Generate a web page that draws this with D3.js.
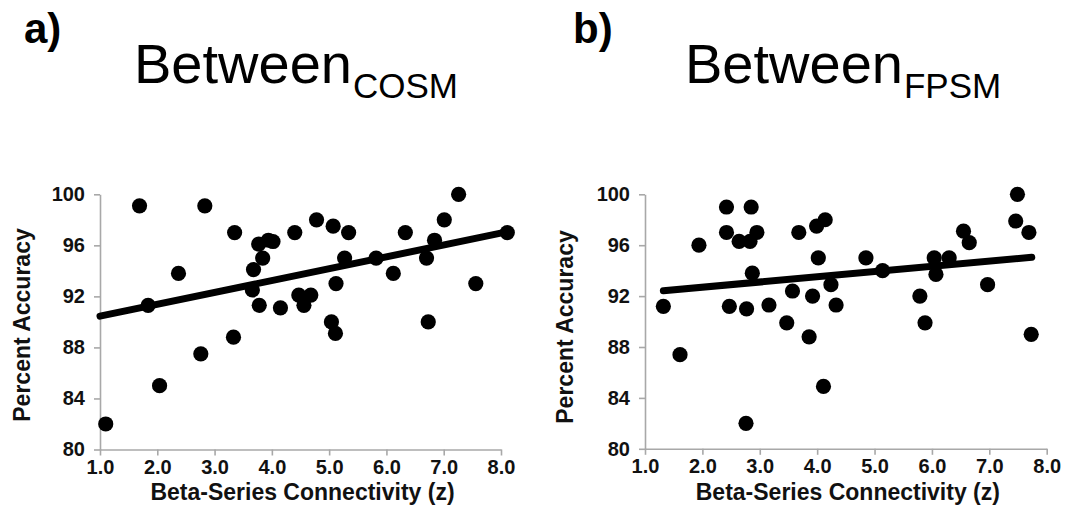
<!DOCTYPE html>
<html>
<head>
<meta charset="utf-8">
<script src="https://cdn.jsdelivr.net/npm/d3@7"></script>
<style>
  body { margin: 0; background: #fff; }
  text { font-family: "Liberation Sans", Arial, sans-serif; }
</style>
</head>
<body>
<div id="chart"></div>
<script>
// Panel a: Between COSM
const cosmX = [1.10, 1.69, 1.84, 2.04, 2.37, 2.76, 2.83, 3.33, 3.35, 3.68, 3.66, 3.77, 3.84, 3.78,
    3.94, 4.02, 4.15, 4.40, 4.47, 4.56, 4.68, 4.78, 5.07, 5.34, 5.12, 5.04, 5.11, 5.27,
    5.82, 6.12, 6.33, 6.70, 6.84, 6.73, 7.01, 7.26, 7.56, 8.11];
const cosmY = [82.0, 99.1, 91.3, 85.0, 93.8, 87.5, 99.1, 88.8, 97.0, 94.1, 92.5, 96.1, 95.0, 91.3,
    96.4, 96.3, 91.1, 97.0, 92.1, 91.3, 92.1, 98.0, 97.5, 97.0, 93.0, 90.0, 89.1, 95.0,
    95.0, 93.8, 97.0, 95.0, 96.4, 90.0, 98.0, 100.0, 93.0, 97.0];
const cosmTrendX = [1.0, 8.1];
const cosmTrendY = [90.45, 97.05];

// Panel b: Between FPSM
const fpsmX = [1.32, 1.61, 1.94, 2.42, 2.42, 2.47, 2.64, 2.85, 2.83, 2.95, 2.87, 2.77, 2.76, 3.16,
    3.47, 3.57, 3.68, 3.86, 3.92, 4.02, 3.99, 4.14, 4.24, 4.33, 4.11, 4.85, 5.14, 5.79,
    5.88, 6.04, 6.07, 6.30, 6.55, 6.65, 6.97, 7.49, 7.46, 7.69, 7.73];
const fpsmY = [91.2, 87.4, 96.0, 99.0, 97.0, 91.2, 96.3, 99.0, 96.3, 97.0, 93.8, 91.0, 82.0, 91.3,
    89.9, 92.4, 97.0, 88.8, 92.0, 95.0, 97.5, 98.0, 92.9, 91.3, 84.9, 95.0, 94.0, 92.0,
    89.9, 95.0, 93.7, 95.0, 97.1, 96.2, 92.9, 100.0, 97.9, 97.0, 89.0];
const fpsmTrendX = [1.32, 7.74];
const fpsmTrendY = [92.42, 95.05];

const xTicks = [1, 2, 3, 4, 5, 6, 7, 8];
const yTicks = [80, 84, 88, 92, 96, 100];
const panelLetters = ["a)", "b)"];
const titleMain = "Between";
const titleSubs = ["COSM", "FPSM"];
const xLabel = "Beta-Series Connectivity (z)";
const yLabel = "Percent Accuracy";

const width = 1080;
const height = 520;

const svg = d3.select("#chart")
    .append("svg")
    .attr("width", width)
    .attr("height", height);

function drawPanel(opts) {
    const x = d3.scaleLinear().domain([1, 8]).range([opts.left, opts.right]);
    const y = d3.scaleLinear().domain([80, 100]).range([opts.bottom, opts.top]);

    const g = svg.append("g");

    // x axis
    const xAxis = g.append("g")
        .attr("transform", `translate(0,${opts.bottom})`)
        .call(d3.axisBottom(x).tickValues(xTicks).tickFormat(d3.format(".1f"))
            .tickSize(6).tickSizeOuter(0).tickPadding(4));
    // y axis
    const yAxis = g.append("g")
        .attr("transform", `translate(${opts.left},0)`)
        .call(d3.axisLeft(y).tickValues(yTicks).tickSize(6).tickSizeOuter(0).tickPadding(9));

    [xAxis, yAxis].forEach(a => {
        a.select(".domain").attr("stroke", "#a8a8a8").attr("stroke-width", 1.6);
        a.selectAll(".tick line").attr("stroke", "#a8a8a8").attr("stroke-width", 1.6);
        a.selectAll(".tick text")
            .attr("fill", "#111")
            .style("font-size", "20px")
            .style("font-weight", "bold");
    });

    // points
    g.append("g")
        .selectAll("circle")
        .data(d3.zip(opts.xs, opts.ys))
        .join("circle")
        .attr("cx", d => x(d[0]))
        .attr("cy", d => y(d[1]))
        .attr("r", 7.6)
        .attr("fill", "#000");

    // trend line
    const line = d3.line().x(d => x(d[0])).y(d => y(d[1]));
    g.append("path")
        .attr("fill", "none")
        .attr("stroke", "#000")
        .attr("stroke-width", 7)
        .attr("stroke-linecap", "round")
        .attr("d", line(d3.zip(opts.trendX, opts.trendY)));

    // axis titles
    g.append("text")
        .attr("x", (opts.left + opts.right) / 2 + 2)
        .attr("y", 500)
        .attr("text-anchor", "middle")
        .style("font-size", "23px")
        .style("font-weight", "bold")
        .attr("fill", "#111")
        .text(xLabel);

    g.append("text")
        .attr("transform", `translate(${opts.yTitleX},${opts.yTitleY}) rotate(-90)`)
        .attr("text-anchor", "middle")
        .style("font-size", "23px")
        .style("font-weight", "bold")
        .attr("fill", "#111")
        .text(yLabel);

    // panel letter
    g.append("text")
        .attr("x", opts.letterX)
        .attr("y", 43)
        .style("font-size", "42px")
        .style("font-weight", "bold")
        .attr("fill", "#000")
        .text(opts.letter);

    // title with subscript
    const t = g.append("text")
        .attr("x", opts.titleX)
        .attr("y", 83)
        .attr("fill", "#000")
        .style("font-size", "56px");
    t.append("tspan").text(titleMain);
    t.append("tspan")
        .attr("dy", 15)
        .attr("dx", 1)
        .style("font-size", "35px")
        .text(opts.sub);
}

drawPanel({
    left: 100, right: 501, top: 194.3, bottom: 449.5,
    xs: cosmX, ys: cosmY, trendX: cosmTrendX, trendY: cosmTrendY,
    yTitleX: 30, yTitleY: 325, letter: panelLetters[0], letterX: 24,
    titleX: 134, sub: titleSubs[0]
});

drawPanel({
    left: 645, right: 1046.7, top: 194.3, bottom: 448.8,
    xs: fpsmX, ys: fpsmY, trendX: fpsmTrendX, trendY: fpsmTrendY,
    yTitleX: 573, yTitleY: 327, letter: panelLetters[1], letterX: 573,
    titleX: 685, sub: titleSubs[1]
});
</script>
</body>
</html>
